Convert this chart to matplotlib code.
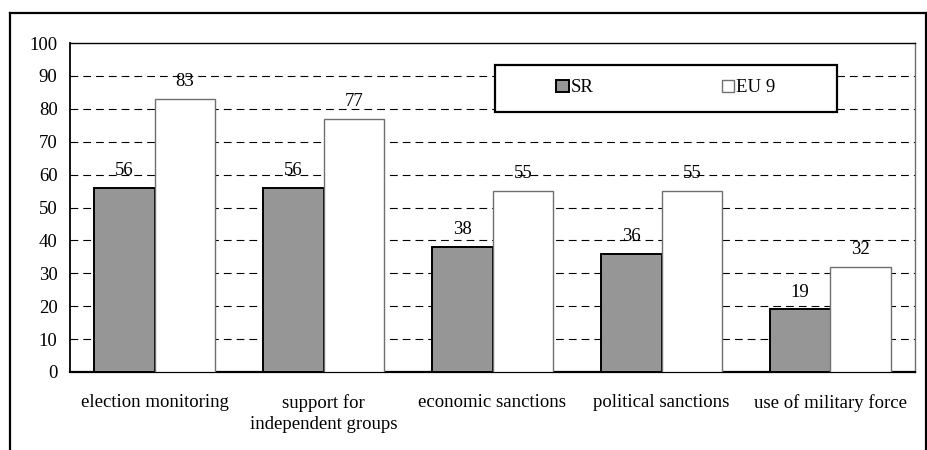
import numpy as np
import matplotlib
matplotlib.use('Agg')
import matplotlib.pyplot as plt
from matplotlib.lines import Line2D
from matplotlib.patches import Rectangle

# Data
categories = ['election monitoring', 'support for\nindependent groups', 'economic sanctions',
              'political sanctions', 'use of military force']
sr_values = [56, 56, 38, 36, 19]
eu_values = [83, 77, 55, 55, 32]
series_names = ['SR', 'EU 9']

plt.rcParams['font.family'] = ['Liberation Serif', 'DejaVu Serif']
fs = 13.5
plt.rcParams['font.size'] = fs

fig = plt.figure(figsize=(9.27, 4.5), dpi=100)
ax = fig.add_axes([70 / 927, 1 - 372 / 450, 845 / 927, 329 / 450])

x = np.arange(len(categories))
w = 0.36
b1 = ax.bar(x - w / 2, sr_values, w, color='#969696', edgecolor='black', linewidth=1.4,
            zorder=3, label=series_names[0])
b2 = ax.bar(x + w / 2, eu_values, w, color='white', edgecolor='#707070', linewidth=1.0,
            zorder=3, label=series_names[1])

# value labels
for bars, vals in [(b1, sr_values), (b2, eu_values)]:
    for r, v in zip(bars, vals):
        ax.text(r.get_x() + r.get_width() / 2, v + 2.6, str(v), ha='center', va='bottom',
                fontsize=fs, zorder=4)

ax.set_xlim(-0.5, len(categories) - 0.5)
ax.set_ylim(0, 100)
ax.set_yticks(range(0, 101, 10))
ax.set_xticks(x)
ax.set_xticklabels(categories, linespacing=1.3)
ax.tick_params(axis='y', length=0, pad=9, labelsize=fs)
ax.tick_params(axis='x', length=0, pad=16, labelsize=fs)

for yv in range(10, 100, 10):
    ax.axhline(yv, color='black', lw=0.8, linestyle=(0, (7, 4.5)), zorder=1)

ax.spines['left'].set_linewidth(1.3)
ax.spines['bottom'].set_linewidth(1.6)
ax.spines['top'].set_linewidth(1.0)
ax.spines['right'].set_color('#707070')
ax.spines['right'].set_linewidth(1.0)

# legend box
box = Rectangle(((495 - 70) / 845, (372 - 112) / 329), (837 - 495) / 845, 47 / 329,
                transform=ax.transAxes, facecolor='white', edgecolor='black', lw=1.6, zorder=5)
ax.add_patch(box)
leg = ax.legend(loc='center', bbox_to_anchor=((666 - 70) / 845, (372 - 88) / 329), ncol=2,
                frameon=False, handlelength=0.65, handleheight=0.65, handletextpad=0.1,
                columnspacing=6.87, fontsize=fs)
leg.set_zorder(6)

# outer frame
for xs, ys in [([10 / 927, 10 / 927], [0, 1 - 13 / 450]),
               ([10 / 927, 925.5 / 927], [1 - 13 / 450, 1 - 13 / 450]),
               ([925.5 / 927, 925.5 / 927], [1 - 13 / 450, 0])]:
    fig.add_artist(Line2D(xs, ys, color='black', lw=1.6, transform=fig.transFigure))

fig.savefig('out.png', dpi=100)
